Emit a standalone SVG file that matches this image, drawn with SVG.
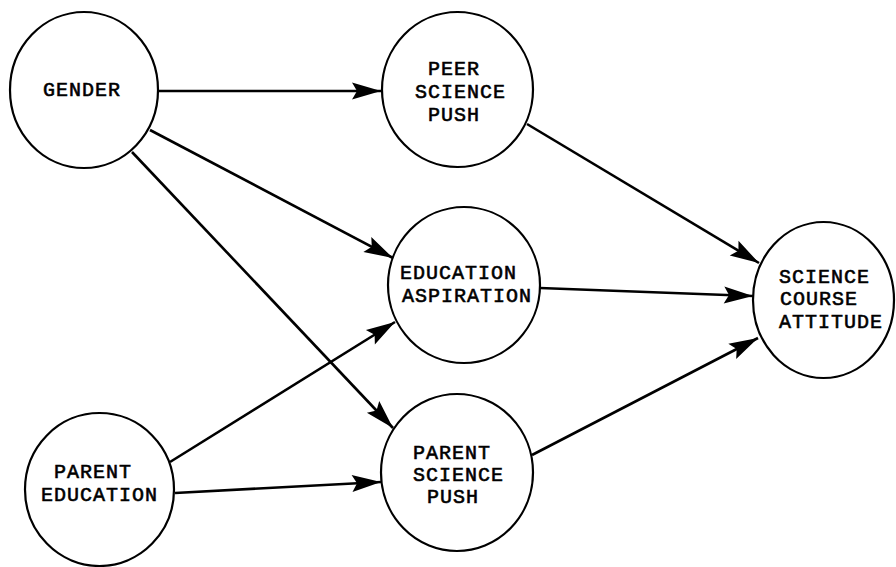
<svg xmlns="http://www.w3.org/2000/svg" width="896" height="567" viewBox="0 0 896 567">
<style>
.node ellipse{fill:#fff;stroke:#000;stroke-width:2.2}
.node text{font-family:"Liberation Mono","DejaVu Sans Mono",monospace;font-size:20px;letter-spacing:1px;fill:#000;stroke:#000;stroke-width:0.6}
.edge{stroke:#000;stroke-width:2.6;fill:none;marker-end:url(#ah)}
</style>
<defs>
<marker id="ah" markerUnits="userSpaceOnUse" viewBox="-30 -10 32 20" refX="0" refY="0" markerWidth="32" markerHeight="20" orient="auto">
<path d="M0,0 L-29,-8.5 L-24,0 L-29,8.5 Z" fill="#000"/>
</marker>
</defs>
<g id="connectors">
<line class="edge" x1="158" y1="91" x2="381" y2="91"/>
<line class="edge" x1="150" y1="130" x2="393" y2="258"/>
<line class="edge" x1="132" y1="152" x2="393" y2="428"/>
<line class="edge" x1="527" y1="124" x2="759" y2="263"/>
<line class="edge" x1="540" y1="288" x2="753" y2="296"/>
<line class="edge" x1="532" y1="455" x2="758" y2="338"/>
<line class="edge" x1="170" y1="462" x2="395" y2="322"/>
<line class="edge" x1="175" y1="493" x2="381" y2="482"/>
</g>
<g id="gender" class="node">
<ellipse cx="84" cy="90" rx="74" ry="78"/>
<text x="43" y="96">GENDER</text>
</g>
<g id="peer-science-push" class="node">
<ellipse cx="457.5" cy="89.5" rx="75.5" ry="77.5"/>
<text x="428" y="75">PEER</text>
<text x="415" y="98">SCIENCE</text>
<text x="428" y="121">PUSH</text>
</g>
<g id="education-aspiration" class="node">
<ellipse cx="464" cy="285" rx="76" ry="78"/>
<text x="400" y="279">EDUCATION</text>
<text x="402" y="302">ASPIRATION</text>
</g>
<g id="parent-science-push" class="node">
<ellipse cx="457" cy="472.5" rx="76" ry="78.5"/>
<text x="413" y="459">PARENT</text>
<text x="413" y="481">SCIENCE</text>
<text x="427" y="503">PUSH</text>
</g>
<g id="science-course-attitude" class="node">
<ellipse cx="823.5" cy="300" rx="70.5" ry="78"/>
<text x="779" y="283">SCIENCE</text>
<text x="780" y="305">COURSE</text>
<text x="779" y="328">ATTITUDE</text>
</g>
<g id="parent-education" class="node">
<ellipse cx="99.5" cy="489.5" rx="74.5" ry="76.5"/>
<text x="54" y="478">PARENT</text>
<text x="41" y="501">EDUCATION</text>
</g>
</svg>
